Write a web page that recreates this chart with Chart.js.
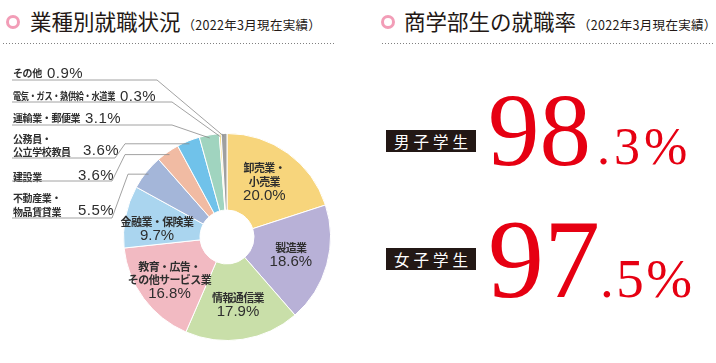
<!DOCTYPE html>
<html lang="ja">
<head>
<meta charset="utf-8">
<script src="https://cdn.jsdelivr.net/npm/chart.js@4.4.1/dist/chart.umd.min.js"></script>
<style>
  body { margin: 0; width: 716px; height: 363px; background: #fff; position: relative; overflow: hidden;
         font-family: "Noto Sans CJK JP", sans-serif; color: #231815; }
  .ring { position: absolute; width: 8px; height: 8px; border: 3px solid #F29DB7; border-radius: 50%; }
  .ttl { position: absolute; top: 7px; font-size: 21.5px; line-height: 28px; white-space: nowrap; }
  .ttl small { font-size: 12.5px; margin-left: 2px; letter-spacing: 0.3px; }
  .dots { position: absolute; top: 43px; height: 1px;
          background: repeating-linear-gradient(90deg, #808080 0 1px, transparent 1px 3px); }
  #pie { position: absolute; left: 0; top: 0; }
  .badge { position: absolute; left: 386px; width: 90px; height: 22px; background: #231815; color: #fff;
           font-size: 15.5px; line-height: 22px; text-align: center; letter-spacing: 4px; text-indent: 4px; }
  .num { position: absolute; color: #E60012; font-family: "Liberation Serif", serif; line-height: 1; white-space: nowrap; }
</style>
</head>
<body>
<div class="ring" style="left:6px;top:15px"></div>
<div class="ttl" style="left:30px">業種別就職状況<small>（2022年3月現在実績）</small></div>
<div class="dots" style="left:3px;width:332px"></div>

<div class="ring" style="left:381px;top:15px"></div>
<div class="ttl" style="left:404px">商学部生の就職率<small>（2022年3月現在実績）</small></div>
<div class="dots" style="left:382px;width:331px"></div>

<canvas id="pie" width="360" height="363"></canvas>
<div id="rates"></div>

<script>
const categories = ["卸売業・小売業", "製造業", "情報通信業", "教育・広告・その他サービス業", "金融業・保険業",
  "不動産業・物品賃貸業", "建設業", "公務員・公立学校教員", "運輸業・郵便業", "電気・ガス・熱供給・水道業", "その他"];
const shares = [20.0, 18.6, 17.9, 16.8, 9.7, 5.5, 3.6, 3.6, 3.1, 0.3, 0.9];
const labelLines = [["卸売業・", "小売業"], ["製造業"], ["情報通信業"], ["教育・広告・", "その他サービス業"], ["金融業・保険業"],
  ["不動産業・", "物品賃貸業"], ["建設業"], ["公務員・", "公立学校教員"], ["運輸業・郵便業"], ["電気・ガス・熱供給・水道業"], ["その他"]];
const colors = ["#F7D57C", "#B8B1D7", "#C9DFA9", "#F2BAC2", "#AAD5EF", "#A4B6D9", "#F1BBA3", "#70C2EA", "#A0D4BF", "#F8DC72", "#9FA0A0"];

const groups = ["男子学生", "女子学生"];
const rates = [98.3, 97.5];

// layout of the labels (offsets from slice centre for inside ones, fixed spots for the left column)
const insideLayout = { 0: [-1, -16], 1: [1, -7], 2: [1, -4], 3: [-5, -9], 4: [-6, -2] };
const outsideLayout = {
  10: { y: [73], px: 47, py: 74, line: 80, knee: 157 },
  9: { y: [96], px: 120, py: 97, line: 102, knee: 172, maxW: 102 },
  8: { y: [118], px: 85, py: 119, line: 125, knee: 172 },
  7: { y: [139, 152], px: 83, py: 151, line: 158, knee: 115, up: 125 },
  6: { y: [177], px: 78, py: 176, line: 181, knee: 112, up: 125 },
  5: { y: [198, 212], px: 78, py: 211, line: 218, knee: 112, up: 128 },
};

const pct = (v) => v.toFixed(1) + "%";

const labelPlugin = {
  id: "labels",
  afterDatasetsDraw(chart) {
    const ctx = chart.ctx;
    const arcs = chart.getDatasetMeta(0).data;
    ctx.save();
    ctx.fillStyle = "#2e2e2e";
    ctx.textBaseline = "middle";
    arcs.forEach((arc, i) => {
      const { x, y, startAngle, endAngle, innerRadius, outerRadius } =
        arc.getProps(["x", "y", "startAngle", "endAngle", "innerRadius", "outerRadius"], true);
      const mid = (startAngle + endAngle) / 2;
      if (insideLayout[i]) {
        const r = (innerRadius + outerRadius) / 2;
        const cx = x + Math.cos(mid) * r + insideLayout[i][0];
        let cy = y + Math.sin(mid) * r + insideLayout[i][1];
        ctx.textAlign = "center";
        ctx.font = "bold 11px 'Noto Sans CJK JP'";
        ctx.letterSpacing = "-0.6px";
        labelLines[i].forEach((t) => { ctx.fillText(t, cx, cy); cy += 13.5; });
        ctx.font = "15px 'Liberation Sans'";
        ctx.letterSpacing = "0px";
        ctx.fillText(pct(shares[i]), cx, cy + 0.5);
      } else {
        const o = outsideLayout[i];
        const r = outerRadius - 3;
        const ex = x + Math.cos(mid) * r, ey = y + Math.sin(mid) * r;
        ctx.textAlign = "left";
        ctx.font = "bold 10px 'Noto Sans CJK JP'";
        ctx.letterSpacing = "-0.4px";
        labelLines[i].forEach((t, k) => {
          if (o.maxW) ctx.fillText(t, 13, o.y[k], o.maxW); else ctx.fillText(t, 13, o.y[k]);
        });
        ctx.font = "15px 'Liberation Sans'";
        ctx.letterSpacing = "0.5px";
        ctx.fillText(pct(shares[i]), o.px, o.py);
        ctx.strokeStyle = "#8a8a8a";
        ctx.lineWidth = 0.8;
        ctx.beginPath();
        ctx.moveTo(12, o.line);
        ctx.lineTo(o.knee, o.line);
        if (o.up) ctx.lineTo(o.up, ey);
        ctx.lineTo(ex, ey);
        ctx.stroke();
      }
    });
    ctx.restore();
  },
};

new Chart(document.getElementById("pie"), {
  type: "doughnut",
  data: {
    labels: categories,
    datasets: [{ data: shares, backgroundColor: colors, borderColor: "#fff", borderWidth: 1 }],
  },
  options: {
    responsive: false,
    animation: false,
    cutout: 27,
    layout: { padding: { left: 123, top: 133, right: 29, bottom: 22 } },
    plugins: { legend: { display: false }, tooltip: { enabled: false } },
  },
  plugins: [labelPlugin],
});

// right side: employment rates
const rateLayout = [
  { badgeTop: 130, base: 165, big: 103, small: 52, smallLeft: 597, ls: 4 },
  { badgeTop: 248, base: 297, big: 112, small: 55, smallLeft: 600, ls: 2.5 },
];
const box = document.getElementById("rates");
groups.forEach((g, i) => {
  const L = rateLayout[i];
  const [whole, frac] = rates[i].toFixed(1).split(".");
  box.insertAdjacentHTML("beforeend",
    `<div class="badge" style="top:${L.badgeTop}px">${g}</div>` +
    `<div class="num" style="left:488px;top:${L.base - 0.8375 * L.big}px;font-size:${L.big}px">${whole}</div>` +
    `<div class="num" style="left:${L.smallLeft}px;top:${L.base - 0.8375 * L.small}px;font-size:${L.small}px;letter-spacing:${L.ls}px">.${frac}%</div>`);
});
</script>
</body>
</html>
